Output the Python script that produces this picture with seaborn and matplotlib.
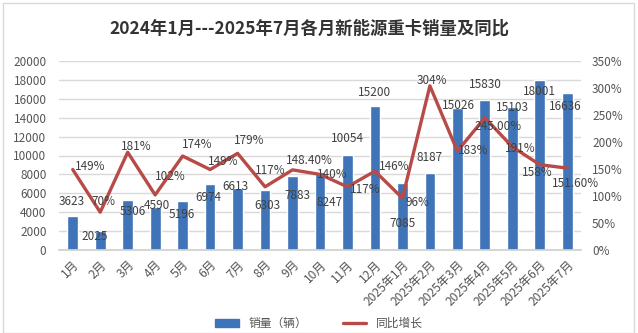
import numpy as np
import pandas as pd
import matplotlib
matplotlib.use("Agg")
import matplotlib.pyplot as plt
import seaborn as sns
from matplotlib.patches import Rectangle
from matplotlib.lines import Line2D

sns.set_theme(style="white")
plt.rcParams['font.family'] = ['Noto Sans CJK SC', 'DejaVu Sans']

months = ["1月", "2月", "3月", "4月", "5月", "6月", "7月", "8月", "9月", "10月", "11月", "12月",
          "2025年1月", "2025年2月", "2025年3月", "2025年4月", "2025年5月", "2025年6月", "2025年7月"]
sales = [3623, 2025, 5306, 4590, 5196, 6974, 6613, 6303, 7883, 8247, 10054, 15200,
         7085, 8187, 15026, 15830, 15103, 18001, 16636]
yoy = [149, 70, 181, 102, 174, 149, 179, 117, 148.4, 140, 117, 146,
       96, 304, 183, 245, 191, 158, 151.6]
yoy_labels = ["149%", "70%", "181%", "102%", "174%", "149%", "179%", "117%", "148.40%", "140%",
              "117%", "146%", "96%", "304%", "183%", "245.00%", "191%", "158%", "151.60%"]

# label offsets in pixels (dx, dy) — style only
bar_off = [(-1, 14), (-5, -6), (5, -12), (2, 1), (-1, -14), (-2, -13), (-2, 1), (2, -15),
           (5, -20), (10, -30), (0, 16), (0, 14), (0, -40), (0, 15), (1, 3), (1, 16), (0, 0),
           (0, -12), (-2, -14)]
line_off = [(17, 3), (3, 11), (9, 6), (15, 18), (15, 12), (13, 8), (12, 13), (5, 16),
            (17, 9), (12, 0), (18, -3), (19, 5), (15, -4), (2, 5), (16, 1), (13, -9),
            (8, -2), (-3, -8), (8, -15)]

df = pd.DataFrame({"month": months, "sales": sales, "yoy": yoy})
df["idx"] = np.arange(len(df))

fig = plt.figure(figsize=(6.38, 3.33), dpi=100)
ax = fig.add_axes([59 / 638, 1 - 250 / 333, (581 - 59) / 638, (250 - 61) / 333])

bar_color = "#3f74b8"
line_color = "#b84a47"

sns.barplot(data=df, x="month", y="sales", color=bar_color, width=0.39, ax=ax,
            saturation=1, order=months)
ax.set_ylim(0, 20000)
ax.set_yticks(np.arange(0, 20001, 2000))
ax.set_xlim(-0.5, 18.5)
ax.grid(axis="y", color="#d9d9d9", linewidth=1)
ax.set_axisbelow(True)
ax.set_xlabel("")
ax.set_ylabel("")
for s in ["top", "right", "left"]:
    ax.spines[s].set_visible(False)
ax.spines["bottom"].set_color("#d0d0d0")
ax.tick_params(axis="y", labelsize=8.5, colors="#555555", length=0, pad=9)
ax.tick_params(axis="x", labelsize=8.7, colors="#555555", length=0, pad=6)
plt.setp(ax.get_xticklabels(), rotation=45, ha="right", rotation_mode="anchor")

ax2 = ax.twinx()
sns.lineplot(data=df, x="idx", y="yoy", color=line_color, linewidth=2.4, ax=ax2)
ax2.set_ylim(0, 350)
ax2.set_yticks(np.arange(0, 351, 50))
ax2.set_yticklabels([f"{v}%" for v in range(0, 351, 50)])
ax2.set_xlim(-0.5, 18.5)
ax2.set_ylabel("")
ax2.set_xlabel("")
for s in ["top", "right", "left", "bottom"]:
    ax2.spines[s].set_visible(False)
ax2.tick_params(axis="y", labelsize=8.5, colors="#555555", length=0, pad=8)

for i, (v, (dx, dy)) in enumerate(zip(sales, bar_off)):
    ax.annotate(str(v), (i, v), xytext=(dx, dy), textcoords="offset pixels",
                ha="center", va="center", fontsize=8.5, color="#404040", zorder=5)
for i, (v, lab, (dx, dy)) in enumerate(zip(yoy, yoy_labels, line_off)):
    ax2.annotate(lab, (i, v), xytext=(dx, dy), textcoords="offset pixels",
                 ha="center", va="center", fontsize=8.5, color="#404040", zorder=5)

fig.text(0.485, 0.915, "2024年1月---2025年7月各月新能源重卡销量及同比", ha="center", va="center",
         fontsize=12.5, fontweight="bold", color="#333333")

handles = [Rectangle((0, 0), 1, 1, color=bar_color), Line2D([0], [0], color=line_color, lw=2.4)]
fig.legend(handles, ["销量（辆）", "同比增长"], loc="center", bbox_to_anchor=(0.5, 0.028),
           ncol=2, frameon=False, fontsize=8.5, labelcolor="#555555", columnspacing=3,
           borderpad=0.1)

fig.patches.append(Rectangle((0.004, 0.0), 0.99, 0.99, transform=fig.transFigure,
                             fill=False, edgecolor="#d9d9d9", linewidth=1))

fig.savefig("out.png", dpi=100)
